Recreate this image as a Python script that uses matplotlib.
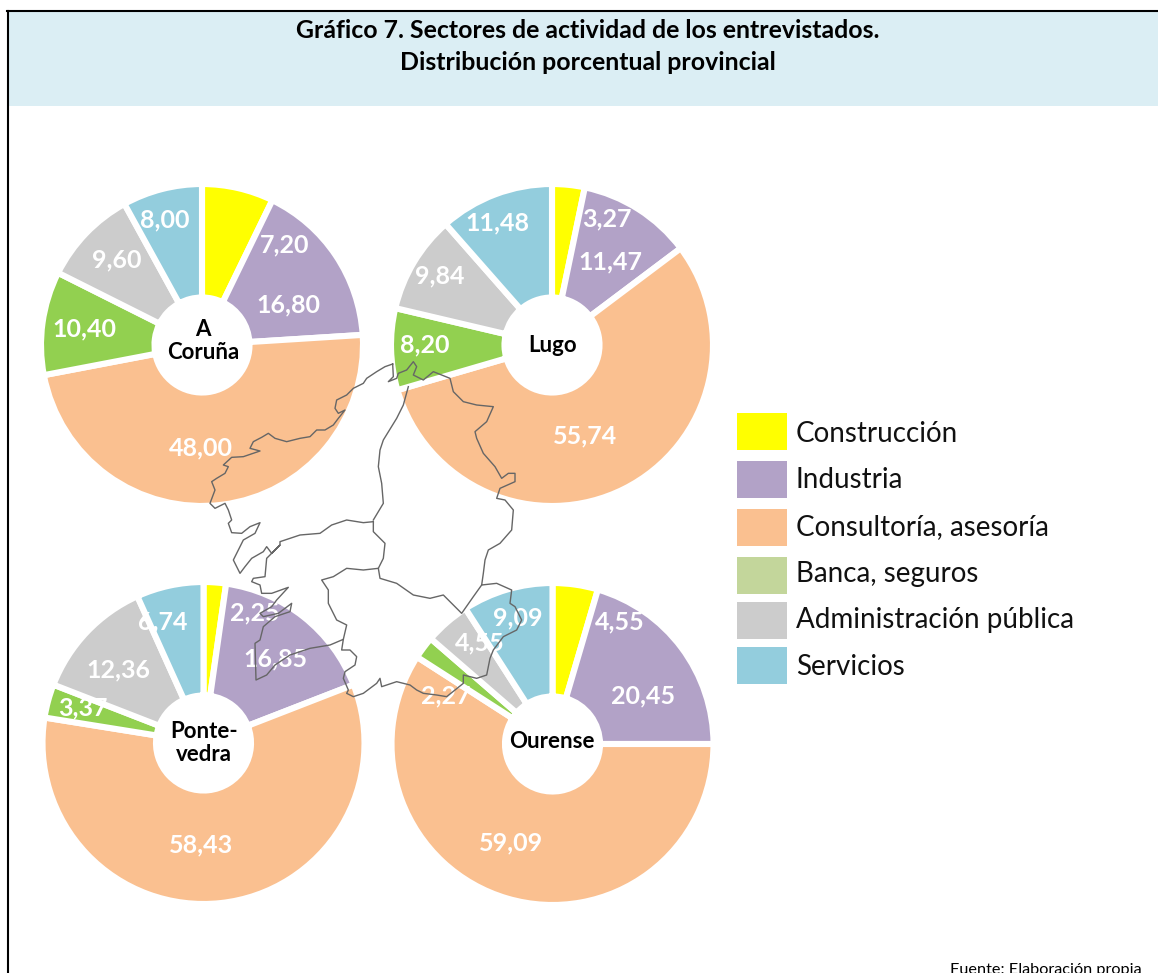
import matplotlib
matplotlib.use("Agg")
import matplotlib.pyplot as plt
from matplotlib.patches import Rectangle

W, H = 1158, 973

categories = ["Construcción", "Industria", "Consultoría, asesoría", "Banca, seguros",
              "Administración pública", "Servicios"]
coruna = [7.20, 16.80, 48.00, 10.40, 9.60, 8.00]
lugo = [3.27, 11.47, 55.74, 8.20, 9.84, 11.48]
pontevedra = [2.25, 16.85, 58.43, 3.37, 12.36, 6.74]
ourense = [4.55, 20.45, 59.09, 2.27, 4.55, 9.09]
provinces = ["A\nCoruña", "Lugo", "Ponte-\nvedra", "Ourense"]

pie_colors = ["#FFFF00", "#B2A2C7", "#FAC090", "#92D050", "#CCCCCC", "#93CDDD"]
legend_colors = ["#FFFF00", "#B2A2C7", "#FAC090", "#C3D69B", "#CCCCCC", "#93CDDD"]

centers = [(202, 345), (552, 345), (203.5, 743), (552.5, 744)]
name_pos = [(203, 341), (553, 346), (204, 743), (552, 742)]

# where the value labels sit in the source, in image pixels
label_pos = [
    [(285, 245), (288, 305), (201, 448), (84, 329), (117, 260), (165, 220)],
    [(607, 219), (610, 262), (585, 436), (425, 345), (440, 276), (497, 223)],
    [(255, 613), (275, 659), (201, 845), (83, 708), (118, 670), (163, 622)],
    [(620, 622), (643, 696), (511, 843), (446, 696), (480, 643), (518, 618)],
]

legend_tops = [413, 461, 509, 557, 602, 647]
legend_baselines = [442, 488, 535, 582, 628, 675]

coast = [(578, 42), (555, 50), (530, 65), (500, 85), (490, 100), (460, 115), (440, 135), (410, 150),
         (405, 175), (415, 190), (435, 180), (415, 205), (400, 225), (375, 240), (350, 240), (330, 260),
         (300, 265), (260, 275), (225, 265), (205, 250), (185, 262), (160, 275), (150, 295), (180, 303),
         (130, 320), (95, 322), (70, 345), (85, 350), (75, 370), (50, 385), (35, 395), (45, 420),
         (30, 460), (45, 475), (75, 460), (85, 480), (95, 510), (85, 520), (95, 548), (125, 550),
         (150, 530), (180, 518), (165, 550), (130, 570), (115, 600), (100, 630), (120, 670), (135, 650),
         (155, 625), (190, 605), (200, 590), (215, 610), (240, 585), (200, 625), (195, 680), (160, 685),
         (155, 695), (180, 705), (185, 730), (215, 730), (265, 712), (230, 750), (215, 770), (180, 790),
         (190, 800), (235, 790), (275, 760), (270, 785), (225, 800), (190, 830), (180, 870), (165, 880),
         (168, 990), (200, 975), (225, 945), (270, 915), (330, 895), (390, 885), (430, 868), (425, 900),
         (450, 900), (470, 920), (465, 945), (435, 965), (430, 985), (445, 1020), (440, 1030), (460, 1040),
         (490, 1030), (530, 1000), (540, 985), (545, 1010), (590, 995), (630, 1005), (650, 1020), (670, 1030),
         (710, 1035), (740, 1040), (790, 1000), (790, 975), (830, 985), (860, 975), (870, 925), (880, 900),
         (910, 860), (950, 840), (965, 810), (945, 770), (930, 760), (935, 720), (890, 700), (845, 705),
         (850, 670), (855, 630), (865, 600), (900, 580), (935, 540), (940, 480), (915, 450), (890, 445),
         (900, 415), (945, 395), (945, 370), (925, 370), (905, 385), (885, 350), (850, 310), (830, 265),
         (825, 245), (860, 215), (880, 170), (830, 165), (790, 155), (760, 125), (750, 85), (700, 65),
         (670, 90), (640, 75), (650, 50), (640, 35), (620, 60), (595, 70), (590, 85), (565, 95),
         (580, 80), (578, 42)]
borders = [
    [(625, 110), (610, 165), (590, 205), (550, 270), (540, 300), (535, 350), (545, 400), (550, 460), (520, 510)],
    [(520, 515), (490, 518), (440, 510), (395, 525), (360, 550), (300, 555), (240, 575), (240, 585)],
    [(520, 515), (520, 545), (555, 580), (550, 625), (535, 655), (540, 685), (590, 700), (640, 735),
     (690, 745), (730, 735), (785, 790), (820, 740), (845, 705)],
    [(535, 655), (490, 660), (440, 655), (400, 680), (365, 690), (385, 720), (385, 760), (410, 810),
     (440, 825), (430, 868)],
]


def draw_map(ax, pts):
    xs = [200 + p[0] / 3 for p in pts]
    ys = [H - (350 + p[1] / 3) for p in pts]
    ax.plot(xs, ys, color="#666666", lw=1.0, zorder=5, solid_joinstyle="round")


plt.rcParams["font.family"] = ["Lato", "DejaVu Sans"]
fig = plt.figure(figsize=(W / 100, H / 100), dpi=100)
ax = fig.add_axes([0, 0, 1, 1])

all_values = [coruna, lugo, pontevedra, ourense]
for i, values in enumerate(all_values):
    cx, cy = centers[i]
    ax.pie(values, colors=pie_colors, startangle=90, counterclock=False, radius=161,
           center=(cx, H - cy),
           wedgeprops=dict(width=113.5, edgecolor="white", linewidth=4.4))
    nx, ny = name_pos[i]
    ax.text(nx, H - ny, provinces[i], ha="center", va="center", fontsize=16,
            fontweight="bold", color="black", linespacing=1.15, zorder=6)
    for v, (lx, ly) in zip(values, label_pos[i]):
        ax.text(lx, H - ly, f"{v:.2f}".replace(".", ","), ha="center", va="center",
                fontsize=18, fontweight="bold", color="white", zorder=4)

draw_map(ax, coast)
for b in borders:
    draw_map(ax, b)

# title band and frame
ax.add_patch(Rectangle((8, H - 106), W - 8, 94, facecolor="#DBEEF4", edgecolor="none", zorder=1))
ax.plot([8, 8], [0, H - 11], color="black", lw=1.5, zorder=7)
ax.plot([7.3, W], [H - 11, H - 11], color="black", lw=1.5, zorder=7)
ax.text(588, H - 31, "Gráfico 7. Sectores de actividad de los entrevistados.", ha="center", va="center",
        fontsize=17.9, fontweight="bold", color="black")
ax.text(588, H - 63, "Distribución porcentual provincial", ha="center", va="center",
        fontsize=17.9, fontweight="bold", color="black")

# legend
for name, col, top, base in zip(categories, legend_colors, legend_tops, legend_baselines):
    ax.add_patch(Rectangle((737, H - top - 37), 50, 37, facecolor=col, edgecolor="none"))
    ax.text(796, H - base, name, ha="left", va="baseline", fontsize=20, color="#111111")

ax.text(1142, H - 970, "Fuente: Elaboración propia", ha="right", va="center", fontsize=11.7, color="black")

ax.set_xlim(0, W)
ax.set_ylim(0, H)
ax.set_aspect("equal")
ax.axis("off")

fig.savefig("out.png", dpi=100)
